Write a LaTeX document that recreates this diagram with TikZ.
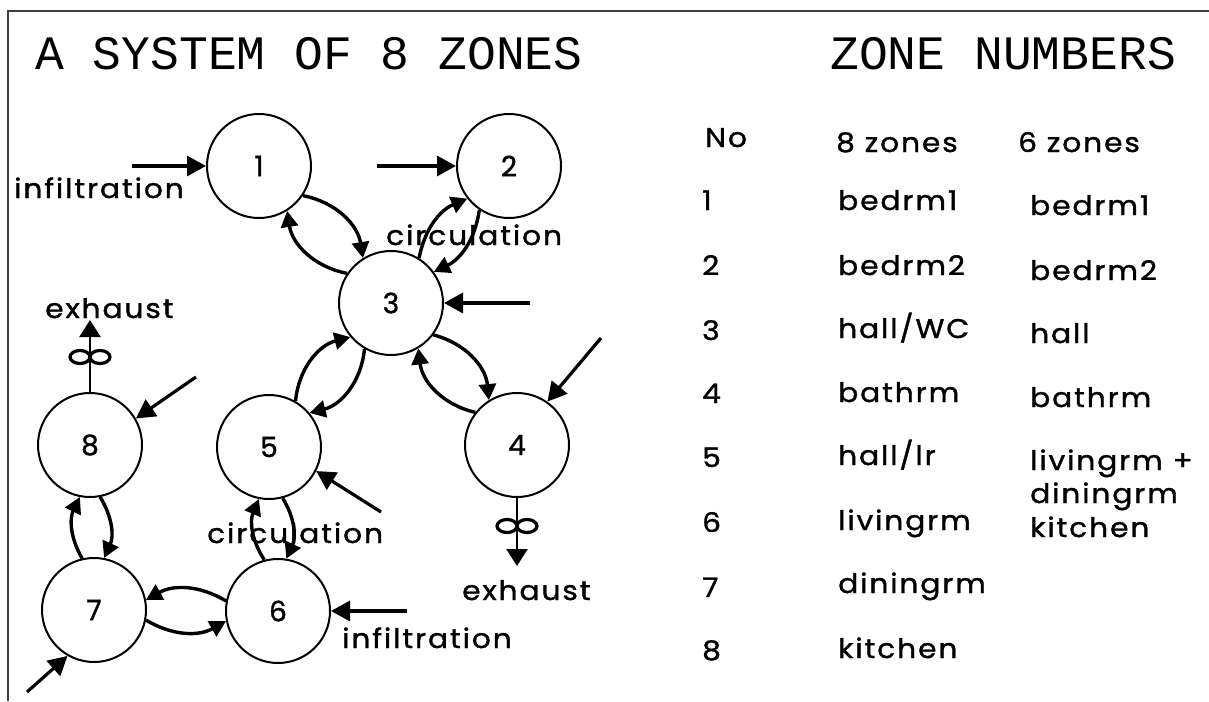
\documentclass[tikz,border=0pt]{standalone}
\usepackage{fontspec}
\usetikzlibrary{arrows.meta}
\newfontfamily\titlefont{Liberation Mono}
\newfontfamily\plotfont[LetterSpace=7,FakeStretch=1.1,FakeBold=1.2]{Poppins}
\newfontfamily\digitfont[FakeBold=1.2]{Poppins}

\begin{document}
\begin{tikzpicture}[x=1pt,y=-1pt,
  zone/.style={circle,draw,line width=2pt,minimum size=104pt,inner sep=0pt,
    font=\digitfont\fontsize{28}{28}\selectfont},
  feed/.style={line width=3.2pt,-{Triangle[length=19pt,width=20pt]}},
  swap/.style={line width=3.4pt,-{Triangle[length=16pt,width=17pt]}},
  vent/.style={line width=2.4pt,-{Triangle[length=17pt,width=21pt]}},
  orifice/.style={line width=3.2pt},
  lbl/.style={inner sep=0pt,anchor=base west,font=\plotfont\fontsize{27}{27}\selectfont},
  ttl/.style={inner sep=0pt,anchor=base west,font=\titlefont\fontsize{48}{48}\selectfont},
  cell/.style={inner sep=0pt,anchor=base west,font=\plotfont\fontsize{27}{27}\selectfont}]

\useasboundingbox (0,0) rectangle (1209,701);
\fill[white] (0,0) rectangle (1209,701);

% frame
\draw[line width=2pt,black!75] (8,701) -- (8,11) -- (1209,11);

% headings
\node[ttl] (title) at (35,70) {A SYSTEM OF 8 ZONES};
\node[ttl] (tabtitle) at (830,70) {ZONE NUMBERS};

% zones
\node[zone] (z1) at (259,166) {1};
\node[zone] (z2) at (509,166) {2};
\node[zone] (z3) at (391,303) {3};
\node[zone] (z4) at (517,445) {4};
\node[zone] (z5) at (269,447) {5};
\node[zone] (z8) at (90,445) {8};
\node[zone] (z7) at (94,610) {7};
\node[zone] (z6) at (278,611) {6};

% infiltration sources
\coordinate (i1) at (132,166);
\coordinate (i2) at (377,166);
\coordinate (i3) at (530,303);
\coordinate (i4) at (601,338);
\coordinate (i5) at (381,512);
\coordinate (i6) at (407,611);
\coordinate (i7) at (27,692);
\coordinate (i8) at (196,377);

\draw[feed] (i1) -- (z1);
\draw[feed] (i2) -- (z2);
\draw[feed] (i3) -- (z3);
\draw[feed] (i4) -- (z4.55);
\draw[feed] (i5) -- (z5.-27);
\draw[feed] (i6) -- (z6);
\draw[feed] (i7) -- (z7.240);
\draw[feed] (i8) -- (z8.30);

% exhaust outlets with orifices
\coordinate (e8) at (90,320);
\coordinate (e4) at (517,566);
\draw[vent] (z8) -- (e8);
\draw[vent] (z4) -- (e4);
\draw[orifice] (80,357) ellipse [x radius=10pt,y radius=6.5pt]
               (100,357) ellipse [x radius=10pt,y radius=6.5pt];
\draw[orifice] (507,526) ellipse [x radius=10pt,y radius=6.5pt]
               (527,526) ellipse [x radius=10pt,y radius=6.5pt];

% interzone flows
\draw[swap] (z1.-34) to[bend left=35] (z3.122);
\draw[swap] (z3.146) to[bend left=35] (z1.-58);
\draw[swap] (z3.58) to[bend left=28] (z2.218);
\draw[swap] (z2.236) to[bend left=28] (z3.36);
\draw[swap] (z5.60) to[bend left=35] (z3.220);
\draw[swap] (z3.240) to[bend left=35] (z5.40);
\draw[swap] (z3.-37) to[bend left=35] (z4.122);
\draw[swap] (z4.142) to[bend left=35] (z3.-59);
\draw[swap] (z6.105) to[bend left=28] (z5.-101);
\draw[swap] (z5.-75) to[bend left=28] (z6.81);
\draw[swap] (z7.103) to[bend left=28] (z8.-101);
\draw[swap] (z8.-79) to[bend left=28] (z7.79);
\draw[swap] (z6.169) to[bend right=30] (z7.11);
\draw[swap] (z7.-11) to[bend right=30] (z6.191);

% flow labels
\node[lbl] (inf1) at (14,198) {infiltration};
\node[lbl] (circ1) at (386,245) {circulation};
\node[lbl] (exh8) at (45,318) {exhaust};
\node[lbl] (circ2) at (207,543) {circulation};
\node[lbl] (exh4) at (462,600) {exhaust};
\node[lbl] (inf6) at (342,648) {infiltration};

% zone table
\node[cell] (hno) at (705,147) {No};
\node[cell] (h8) at (836,152) {8 zones};
\node[cell] (h6) at (1018,152) {6 zones};

\node[cell] (n1) at (702,210) {1};
\node[cell] (n2) at (702,275) {2};
\node[cell] (n3) at (702,340) {3};
\node[cell] (n4) at (702,403) {4};
\node[cell] (n5) at (702,467) {5};
\node[cell] (n6) at (702,532) {6};
\node[cell] (n7) at (702,597) {7};
\node[cell] (n8) at (702,660) {8};

\node[cell] (a1) at (838,210) {bedrm1};
\node[cell] (a2) at (838,275) {bedrm2};
\node[cell] (a3) at (838,338) {hall/WC};
\node[cell] (a4) at (838,402) {bathrm};
\node[cell] (a5) at (838,465) {hall/lr};
\node[cell] (a6) at (838,530) {livingrm};
\node[cell] (a7) at (838,593) {diningrm};
\node[cell] (a8) at (838,658) {kitchen};

\node[cell] (b1) at (1030,215) {bedrm1};
\node[cell] (b2) at (1030,280) {bedrm2};
\node[cell] (b3) at (1030,343) {hall};
\node[cell] (b4) at (1030,407) {bathrm};
\node[cell] (b5) at (1030,470) {livingrm +};
\node[cell] (b5b) at (1030,503) {diningrm};
\node[cell] (b6) at (1030,537) {kitchen};
\end{tikzpicture}
\end{document}
